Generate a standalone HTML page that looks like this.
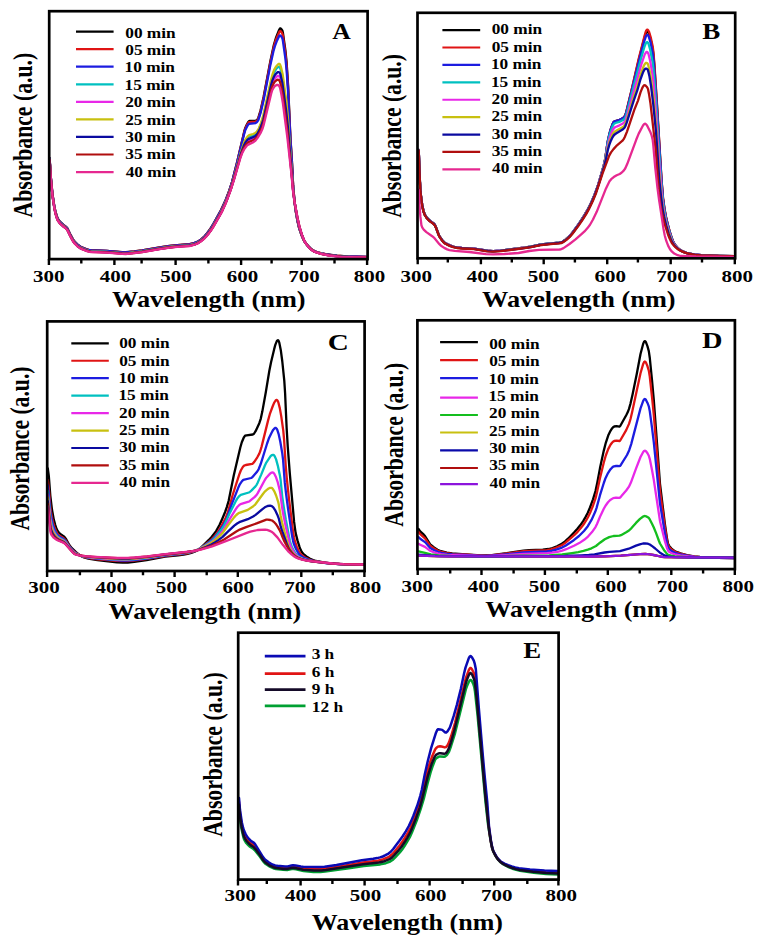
<!DOCTYPE html>
<html><head><meta charset="utf-8"><style>
html,body{margin:0;padding:0;background:#fff;}
svg{display:block;}
text{font-family:"Liberation Serif",serif;font-weight:bold;}
</style></head><body>
<svg width="762" height="942" viewBox="0 0 762 942">
<rect width="762" height="942" fill="#fff"/>
<path d="M49.6 158.2L50.9 177.8 52.4 193.6 54.4 206.8 55.6 212.2 56.9 216.5 57.9 218.9 59.9 221.7 63.4 224.9 66.1 226.9 67.3 228.3 70.1 234.0 72.8 239.1 74.3 241.3 77.6 244.6 80.6 246.8 86.1 249.0 88.6 249.8 91.1 250.2 106.6 250.8 122.1 252.1 125.8 252.2 134.1 251.4 142.1 250.4 161.3 247.1 169.6 245.9 177.3 245.1 189.6 244.1 194.1 243.1 197.8 241.6 201.1 239.4 204.6 236.3 207.3 233.0 210.8 228.2 213.6 223.6 221.1 210.0 225.8 199.7 229.3 190.6 232.1 181.9 237.1 162.2 244.3 131.2 245.3 127.9 247.1 124.0 248.1 122.2 249.1 121.1 249.6 121.0 255.6 120.9 256.6 120.2 257.6 119.2 258.4 117.7 260.6 110.3 263.6 96.9 270.4 61.0 273.9 44.8 275.9 38.0 278.9 30.3 279.9 28.6 280.1 28.4 280.6 28.5 281.4 29.1 282.4 30.6 282.9 32.7 285.4 50.3 286.6 62.2 288.1 85.6 290.4 137.3 291.9 160.8 293.1 184.9 294.4 200.2 295.6 210.4 297.4 220.6 299.1 228.0 301.4 234.8 302.9 238.4 304.4 241.2 308.1 246.1 310.4 248.3 312.4 249.9 314.4 251.1 316.9 252.0 321.1 253.3 325.6 254.2 336.9 255.7 347.6 256.4 366.4 256.8" fill="none" stroke="#000000" stroke-width="2.3" stroke-linejoin="round" stroke-linecap="round"/>
<path d="M49.6 158.3L50.9 177.9 52.4 193.7 54.4 206.9 55.6 212.3 56.9 216.6 57.9 219.0 59.9 221.8 63.4 225.0 66.1 227.0 67.3 228.3 70.1 234.1 72.8 239.1 74.3 241.4 77.6 244.7 80.6 246.9 86.1 249.1 88.6 249.8 91.1 250.3 106.6 250.9 122.1 252.2 125.8 252.3 134.1 251.5 142.1 250.4 161.3 247.2 169.6 246.0 177.3 245.2 189.6 244.2 194.1 243.2 197.8 241.7 201.1 239.4 204.6 236.4 207.3 233.1 210.8 228.3 213.6 223.8 220.8 210.6 225.6 200.5 229.3 190.7 232.1 182.0 236.8 163.6 244.1 132.9 245.3 128.7 246.8 125.4 248.1 123.2 249.1 122.1 255.6 121.7 256.6 121.0 257.6 120.0 258.4 118.5 260.6 111.3 263.6 98.1 270.4 62.5 273.9 46.6 275.1 42.2 276.9 37.4 279.4 31.7 279.9 31.1 280.4 31.0 281.1 31.6 282.1 33.1 282.9 35.7 285.4 53.4 286.6 65.2 288.1 88.2 290.4 138.5 291.9 161.6 293.1 185.2 294.4 200.2 295.6 210.3 297.4 220.5 299.1 227.9 301.4 234.7 302.9 238.3 304.1 240.8 305.4 242.7 307.9 245.8 310.1 248.1 312.4 250.0 314.4 251.1 316.6 252.0 320.9 253.2 325.4 254.2 330.4 255.0 336.6 255.7 346.9 256.4 366.4 256.8" fill="none" stroke="#e01414" stroke-width="2.3" stroke-linejoin="round" stroke-linecap="round"/>
<path d="M49.6 158.4L50.9 178.0 52.4 193.8 54.4 207.0 55.6 212.4 56.9 216.7 57.9 219.1 59.9 221.9 63.4 225.1 66.1 227.1 67.3 228.5 70.1 234.2 72.8 239.3 74.3 241.6 77.6 244.8 80.6 247.0 86.1 249.3 88.6 250.0 91.1 250.4 106.6 251.0 122.1 252.3 125.8 252.4 134.1 251.6 142.1 250.6 161.3 247.3 169.6 246.2 177.3 245.3 189.6 244.3 193.8 243.4 197.6 241.9 200.6 240.0 204.3 236.8 207.1 233.6 210.6 228.9 213.3 224.4 220.6 211.3 222.6 207.4 225.3 201.3 228.8 192.4 231.8 183.2 236.8 164.1 244.1 134.1 245.3 130.1 246.6 127.4 247.8 125.1 249.1 123.8 255.6 123.1 256.6 122.4 257.6 121.3 258.4 119.9 260.6 112.9 263.4 101.3 270.6 63.9 273.6 50.6 274.9 46.2 276.6 41.6 279.1 36.2 279.6 35.5 280.1 35.3 280.9 35.9 281.9 37.5 282.4 38.6 282.9 40.8 285.4 58.5 286.6 70.2 288.1 92.4 290.4 140.4 291.9 162.9 293.1 185.7 294.4 200.3 295.6 210.1 297.6 221.4 299.4 228.6 301.9 235.9 303.4 239.3 304.6 241.6 306.6 244.3 308.9 246.9 310.9 248.8 312.9 250.3 314.6 251.3 317.4 252.3 321.6 253.5 326.1 254.4 337.4 255.9 348.1 256.5 366.4 256.9" fill="none" stroke="#1c1ce0" stroke-width="2.3" stroke-linejoin="round" stroke-linecap="round"/>
<path d="M49.6 159.4L50.9 179.0 52.4 194.8 54.4 208.0 55.6 213.4 56.9 217.7 57.9 220.1 59.9 222.9 63.4 226.1 66.1 228.1 67.3 229.5 70.1 235.2 72.8 240.2 74.3 242.5 77.6 245.8 80.6 248.0 86.1 250.2 88.6 250.9 91.1 251.4 106.6 252.0 122.1 253.3 125.8 253.4 134.1 252.6 142.1 251.5 161.3 248.3 169.6 247.1 177.3 246.3 189.6 245.3 192.8 244.6 196.3 243.5 199.3 241.9 203.3 238.8 205.8 236.3 208.6 232.9 211.1 229.5 213.6 225.5 220.1 214.1 222.8 208.8 227.1 198.8 231.1 187.7 234.6 176.0 240.8 153.0 243.8 144.2 245.6 140.4 247.8 137.3 249.1 136.5 253.1 135.1 255.3 134.1 257.4 131.9 258.9 129.2 261.1 123.9 263.4 116.6 271.1 81.5 272.4 76.8 274.1 72.3 275.9 69.4 276.9 68.1 277.9 67.2 278.6 66.9 279.4 67.0 279.9 67.4 280.6 69.4 282.6 77.9 286.4 105.9 287.9 121.3 289.9 149.0 293.1 189.3 294.6 202.4 296.9 215.7 298.9 225.2 301.1 232.9 303.6 239.5 304.9 242.0 306.6 244.5 308.9 247.2 311.1 249.3 312.9 250.7 314.4 251.5 319.9 253.4 323.9 254.4 328.1 255.1 339.6 256.5 349.9 256.9 366.4 257.1" fill="none" stroke="#00c0c0" stroke-width="2.3" stroke-linejoin="round" stroke-linecap="round"/>
<path d="M49.6 159.7L50.9 179.3 52.4 195.1 54.4 208.3 55.6 213.7 56.9 218.0 57.9 220.4 59.9 223.2 63.4 226.4 66.1 228.4 67.3 229.8 70.1 235.5 72.8 240.5 74.3 242.8 77.6 246.1 80.6 248.3 86.1 250.5 88.6 251.2 91.1 251.7 106.6 252.3 122.1 253.6 125.6 253.7 133.8 252.9 142.1 251.8 161.3 248.6 169.8 247.4 177.3 246.6 189.3 245.7 192.6 245.0 196.1 243.9 199.1 242.3 202.8 239.5 205.3 237.2 208.1 234.0 210.8 230.3 213.1 226.8 219.6 215.6 222.1 210.9 226.3 201.3 230.8 189.1 234.3 177.8 240.8 154.7 243.1 148.6 245.1 144.6 247.1 141.8 248.6 140.6 253.3 138.6 255.6 137.1 257.9 134.3 260.1 130.0 261.9 125.9 263.4 121.3 271.1 87.6 272.1 83.9 273.6 80.4 274.9 78.4 277.1 76.2 277.9 75.9 278.6 76.0 279.6 76.7 280.1 77.8 281.9 85.4 282.9 91.2 285.6 111.5 287.9 131.6 293.1 190.4 294.6 202.4 297.1 216.4 299.1 225.8 301.6 234.1 304.1 240.5 305.4 242.8 307.4 245.5 309.6 248.0 311.6 249.9 314.6 251.7 320.6 253.7 328.9 255.4 340.1 256.6 350.1 257.0 366.4 257.2" fill="none" stroke="#e828e8" stroke-width="2.3" stroke-linejoin="round" stroke-linecap="round"/>
<path d="M49.6 159.3L50.9 178.9 52.4 194.7 54.4 207.9 55.6 213.3 56.9 217.6 57.9 220.0 59.9 222.8 63.4 226.0 66.1 228.0 67.3 229.4 70.1 235.1 72.8 240.1 74.3 242.4 77.6 245.7 80.6 247.9 86.1 250.1 88.6 250.8 91.1 251.3 106.6 251.9 122.1 253.2 125.8 253.3 134.1 252.5 142.1 251.4 161.3 248.2 169.6 247.0 177.3 246.2 189.6 245.2 193.1 244.5 196.6 243.3 199.6 241.6 203.6 238.5 206.1 235.9 209.1 232.1 211.3 229.0 213.8 224.9 220.3 213.5 223.1 208.1 227.3 198.0 231.3 186.7 234.8 174.8 240.8 152.4 244.1 142.6 245.6 139.3 247.8 136.1 249.1 135.2 253.1 134.0 255.3 133.0 256.4 132.1 257.6 130.5 258.9 128.2 261.1 122.6 263.4 115.1 270.9 80.6 272.4 74.7 274.1 69.9 275.9 66.7 277.9 64.4 278.9 63.8 279.6 63.9 280.1 64.6 280.9 66.8 282.6 74.0 286.4 102.0 287.9 117.9 289.9 147.2 293.1 188.9 294.6 202.4 296.6 214.5 298.9 225.4 301.1 233.0 303.6 239.6 304.9 242.0 306.6 244.4 308.9 247.1 311.1 249.3 312.9 250.6 314.4 251.5 319.9 253.3 323.9 254.3 328.1 255.1 339.6 256.4 350.1 256.9 366.4 257.1" fill="none" stroke="#c8c010" stroke-width="2.3" stroke-linejoin="round" stroke-linecap="round"/>
<path d="M49.6 159.6L50.9 179.2 52.4 195.0 54.4 208.2 55.6 213.6 56.9 217.9 57.9 220.3 59.9 223.1 63.4 226.3 66.1 228.3 67.3 229.6 70.1 235.4 72.8 240.4 74.3 242.7 77.6 246.0 80.6 248.2 86.1 250.4 88.6 251.1 91.1 251.6 106.6 252.1 122.1 253.4 125.6 253.6 133.8 252.8 142.1 251.7 161.3 248.5 169.8 247.3 177.3 246.4 189.3 245.5 192.6 244.9 196.1 243.8 199.1 242.2 202.8 239.4 205.3 237.1 208.1 233.8 210.8 230.1 213.3 226.2 219.8 214.9 222.3 210.2 226.6 200.4 231.1 188.1 234.6 176.5 240.8 154.0 243.6 146.3 245.3 142.7 247.3 139.9 248.8 138.8 253.1 137.2 255.3 135.9 256.4 135.0 257.6 133.3 259.4 130.1 261.6 124.8 263.4 119.3 271.1 85.0 272.1 81.2 273.6 77.4 275.1 74.8 276.4 73.3 277.4 72.4 278.1 72.1 278.9 72.1 279.6 72.6 280.4 74.3 282.4 83.1 286.1 110.4 287.9 127.2 293.1 190.0 294.6 202.4 297.1 216.7 299.1 226.0 301.6 234.3 303.9 240.0 305.1 242.4 307.1 245.1 309.4 247.7 311.4 249.6 313.1 250.9 314.6 251.7 320.1 253.5 324.1 254.5 328.4 255.2 339.9 256.5 350.1 257.0 366.4 257.2" fill="none" stroke="#0a0aa0" stroke-width="2.3" stroke-linejoin="round" stroke-linecap="round"/>
<path d="M49.6 159.8L50.9 179.5 52.4 195.2 54.4 208.4 55.6 213.8 56.9 218.1 57.9 220.6 59.9 223.3 63.4 226.5 66.1 228.5 67.3 229.9 70.1 235.6 72.8 240.7 74.3 243.0 77.6 246.3 80.6 248.4 86.1 250.7 88.6 251.4 91.1 251.8 106.6 252.4 122.1 253.7 125.6 253.8 133.8 253.0 142.1 252.0 161.3 248.7 169.8 247.5 177.3 246.7 189.3 245.8 192.3 245.2 195.3 244.3 198.3 242.9 201.6 240.7 204.6 238.1 207.6 234.8 210.6 230.8 212.8 227.4 221.8 211.7 226.1 202.1 230.8 189.3 234.3 178.1 240.6 156.3 242.6 150.8 244.6 146.8 246.8 143.6 248.3 142.3 253.1 140.2 255.6 138.6 257.9 135.6 260.4 131.1 262.1 127.1 263.4 123.3 271.1 90.2 272.1 86.7 273.4 83.9 274.6 81.9 276.6 80.1 277.4 79.7 278.1 79.7 278.9 80.1 279.6 80.9 280.1 82.1 280.9 85.3 282.6 94.6 284.9 110.9 287.6 133.7 291.6 174.0 293.1 190.9 294.6 202.4 297.4 217.4 299.4 226.6 302.1 235.5 304.4 241.0 305.6 243.1 307.9 246.1 309.9 248.3 311.9 250.1 314.9 251.9 320.9 253.8 328.9 255.4 340.4 256.7 350.4 257.1 366.4 257.2" fill="none" stroke="#b00e0e" stroke-width="2.3" stroke-linejoin="round" stroke-linecap="round"/>
<path d="M49.6 160.0L50.9 179.6 52.4 195.4 54.4 208.6 55.6 214.0 56.9 218.3 57.9 220.7 59.9 223.5 63.4 226.7 66.1 228.7 67.3 230.1 70.1 235.8 72.8 240.9 74.3 243.1 77.6 246.4 80.6 248.6 86.1 250.8 88.6 251.6 91.1 252.0 106.6 252.6 122.1 253.9 125.6 254.0 133.8 253.2 142.1 252.2 161.3 248.9 169.8 247.7 177.3 246.9 189.3 246.0 191.8 245.5 194.6 244.7 197.6 243.5 200.6 241.6 204.1 238.8 207.1 235.6 210.3 231.4 212.6 228.1 221.3 213.0 225.6 203.7 230.6 190.4 234.1 179.5 240.6 157.3 242.1 153.3 244.1 149.4 246.6 146.0 247.8 144.9 252.8 142.5 255.3 140.8 257.6 137.9 260.9 132.4 262.6 128.5 263.6 125.2 271.1 93.9 272.1 90.5 273.4 88.0 274.6 86.3 276.6 85.0 277.9 84.8 278.6 85.4 279.4 86.3 280.1 88.1 281.6 95.5 282.9 103.4 287.4 137.9 291.1 171.2 293.1 191.6 294.6 202.3 297.6 218.3 299.4 226.3 302.1 235.4 304.6 241.5 305.9 243.5 308.1 246.4 310.1 248.6 312.1 250.3 314.9 251.9 321.1 253.9 329.1 255.5 340.6 256.8 350.6 257.1 366.4 257.3" fill="none" stroke="#e62890" stroke-width="2.3" stroke-linejoin="round" stroke-linecap="round"/>
<path d="M418.7 150.0L419.9 181.8 420.7 194.1 422.2 204.9 423.7 211.7 424.9 214.9 426.9 217.9 429.9 220.8 433.2 223.1 434.7 224.6 435.9 227.1 438.4 234.1 439.4 236.2 442.7 240.8 443.9 242.1 445.2 243.1 448.2 244.6 451.2 245.9 454.2 246.8 457.2 247.4 461.7 247.9 473.9 248.6 487.4 250.7 493.2 251.1 500.7 250.6 523.7 247.7 531.0 246.6 541.2 244.5 559.2 242.6 561.2 242.3 562.5 241.8 565.5 239.7 570.0 235.6 573.2 231.6 579.2 223.3 584.2 215.6 587.7 209.7 591.0 203.2 594.0 196.3 596.5 189.7 598.5 183.8 603.7 165.7 605.2 158.9 607.2 144.8 608.2 139.2 610.2 131.0 612.5 124.5 613.5 122.3 614.2 121.5 615.5 121.0 619.7 119.8 621.7 118.8 623.5 117.7 624.7 116.4 626.0 113.3 631.2 92.1 639.2 58.0 644.5 37.8 645.5 34.3 646.2 32.5 647.0 31.6 647.5 31.6 648.2 32.3 649.0 33.8 650.5 38.6 652.7 49.2 653.5 55.5 654.5 67.8 656.7 101.4 661.5 180.1 663.0 198.4 664.5 209.1 666.2 218.4 669.2 230.2 672.0 238.8 673.2 241.7 674.5 244.0 676.2 246.4 678.2 248.5 680.0 249.9 682.0 251.0 685.0 252.4 687.7 253.3 694.0 254.4 701.2 255.2 719.0 255.9 734.2 256.2" fill="none" stroke="#000000" stroke-width="2.3" stroke-linejoin="round" stroke-linecap="round"/>
<path d="M418.7 150.0L419.9 181.8 420.7 194.1 422.2 204.9 423.7 211.7 424.9 214.9 426.9 217.9 429.9 220.8 433.2 223.1 434.7 224.6 435.9 227.1 438.4 234.1 439.4 236.2 442.7 240.8 443.9 242.1 445.2 243.1 448.2 244.6 451.2 245.9 454.2 246.8 457.2 247.4 461.7 247.9 473.9 248.6 487.4 250.7 493.2 251.1 500.7 250.6 523.7 247.7 531.0 246.6 541.2 244.5 559.2 242.6 561.2 242.3 562.5 241.8 565.5 239.7 570.0 235.6 573.2 231.6 579.2 223.3 584.5 215.2 588.0 209.2 591.2 202.6 594.2 195.6 596.5 189.7 598.5 183.8 603.7 165.7 605.2 158.9 607.2 144.8 608.2 139.2 610.2 131.0 612.5 124.5 613.5 122.3 614.2 121.5 615.5 121.0 618.5 120.3 620.0 119.7 622.0 118.7 623.5 117.6 624.7 116.3 626.0 113.1 631.2 91.4 638.7 58.7 644.5 36.1 645.5 32.5 646.2 30.6 647.0 29.7 647.5 29.6 648.2 30.3 649.0 31.7 650.7 37.3 652.7 46.5 653.5 52.9 654.5 65.3 656.7 99.3 661.5 179.0 663.0 197.7 664.5 208.6 666.5 219.1 669.5 230.8 672.2 239.3 673.5 242.2 674.5 243.9 676.5 246.6 678.5 248.7 680.2 250.0 682.2 251.1 685.0 252.4 687.7 253.3 694.0 254.4 701.2 255.2 719.0 255.9 734.2 256.2" fill="none" stroke="#e01414" stroke-width="2.3" stroke-linejoin="round" stroke-linecap="round"/>
<path d="M418.7 150.0L419.9 181.8 420.7 194.1 422.2 204.9 423.7 211.7 424.9 214.9 426.9 217.9 429.9 220.8 433.2 223.1 434.7 224.6 435.9 227.1 438.4 234.1 439.4 236.2 442.7 240.8 443.9 242.1 445.2 243.1 448.2 244.6 451.2 245.9 454.2 246.8 457.2 247.4 461.7 247.9 473.9 248.6 487.4 250.7 493.2 251.1 500.7 250.6 523.7 247.7 531.0 246.6 541.2 244.5 559.2 242.6 561.2 242.3 562.5 241.8 565.5 239.7 570.0 235.6 573.0 231.9 579.0 223.7 584.0 216.0 587.7 209.7 590.7 203.7 593.7 196.9 596.2 190.4 598.5 183.8 604.0 164.7 605.5 157.4 607.7 141.7 609.2 134.8 610.7 129.4 612.7 123.9 614.0 121.7 615.5 121.0 619.2 120.0 622.7 118.3 624.5 117.0 625.5 115.1 627.2 109.2 639.7 58.2 644.2 41.4 646.0 36.1 646.7 35.0 647.5 34.8 648.2 35.6 649.0 37.3 650.5 42.3 652.7 53.5 653.5 59.8 654.7 75.3 656.7 104.8 661.5 181.8 663.0 199.5 664.5 209.9 666.5 220.1 669.5 231.5 672.0 239.0 673.2 241.9 674.5 244.1 676.2 246.4 678.2 248.5 680.0 249.9 682.0 251.0 685.0 252.4 687.7 253.3 694.0 254.4 701.2 255.2 719.0 255.9 734.2 256.2" fill="none" stroke="#1c1ce0" stroke-width="2.3" stroke-linejoin="round" stroke-linecap="round"/>
<path d="M418.7 150.0L419.7 176.3 420.4 191.0 421.7 201.9 422.4 206.4 423.4 210.8 424.7 214.4 426.7 217.6 429.9 220.9 433.4 223.4 434.9 225.0 435.9 227.2 439.2 235.8 442.2 240.3 443.7 241.9 444.9 243.0 447.9 244.5 450.9 245.8 453.9 246.8 456.9 247.4 461.4 247.9 473.9 248.6 487.4 250.8 493.2 251.1 500.7 250.6 523.2 247.8 531.0 246.7 541.5 244.5 559.0 242.7 561.0 242.4 562.2 242.0 565.2 240.0 569.7 235.9 572.7 232.3 578.2 224.8 582.5 218.5 587.0 211.1 590.0 205.4 593.0 198.8 595.7 192.0 598.0 185.5 603.7 166.0 605.2 159.5 607.7 143.1 609.2 136.4 610.7 131.3 612.7 125.9 614.0 123.8 615.5 123.0 619.2 121.9 623.0 120.0 624.5 118.8 625.5 117.0 627.2 111.4 640.2 61.4 643.7 49.2 644.7 46.0 645.7 43.5 646.5 42.4 647.2 42.1 647.7 42.4 648.5 43.8 650.2 49.7 652.5 61.7 653.5 69.7 654.7 84.4 656.5 109.1 659.0 150.0 661.0 179.0 662.0 192.1 663.0 202.0 664.5 211.8 666.5 221.5 669.5 232.4 672.0 239.6 673.2 242.3 674.5 244.4 676.2 246.6 678.2 248.7 680.0 250.0 682.2 251.2 685.2 252.5 688.0 253.4 694.2 254.5 701.2 255.2 718.7 255.9 734.2 256.2" fill="none" stroke="#00c0c0" stroke-width="2.3" stroke-linejoin="round" stroke-linecap="round"/>
<path d="M418.7 150.1L419.7 176.3 420.4 191.1 421.7 202.0 422.4 206.5 423.4 210.9 424.7 214.5 426.7 217.7 429.9 221.0 433.4 223.5 434.9 225.1 435.9 227.3 439.2 235.9 442.2 240.3 443.7 242.0 444.9 243.1 447.9 244.6 450.9 245.9 453.9 246.9 456.9 247.5 461.4 248.0 473.9 248.7 487.4 250.9 493.2 251.2 500.7 250.7 522.7 248.0 531.0 246.8 541.5 244.6 559.0 242.8 562.0 242.2 564.5 240.7 568.7 237.1 571.2 234.4 574.2 230.5 580.0 222.5 585.2 214.4 588.7 208.2 592.0 201.4 594.7 194.9 597.2 188.1 603.5 167.6 605.2 160.6 607.7 145.9 609.2 139.7 610.7 134.9 612.7 130.0 614.0 128.0 615.5 127.0 619.0 125.6 623.0 123.4 624.5 122.1 625.5 120.3 627.2 115.0 641.7 63.3 644.7 54.5 646.0 52.3 646.5 51.9 647.0 51.9 647.7 52.4 648.5 54.0 650.2 61.0 652.5 74.8 653.5 82.9 656.2 116.2 659.5 166.2 661.5 191.1 662.7 203.5 664.2 212.9 666.2 222.3 669.0 232.1 671.7 239.8 673.0 242.4 674.2 244.5 676.2 246.9 678.2 248.8 680.2 250.2 682.5 251.4 685.2 252.6 688.0 253.4 694.2 254.5 701.2 255.2 718.7 256.0 734.2 256.2" fill="none" stroke="#e828e8" stroke-width="2.3" stroke-linejoin="round" stroke-linecap="round"/>
<path d="M418.7 150.2L419.7 176.4 420.4 191.1 421.7 202.1 422.4 206.5 423.4 211.0 424.7 214.6 426.7 217.8 429.9 221.1 433.4 223.6 434.9 225.2 435.9 227.3 439.2 236.0 442.2 240.4 443.7 242.1 444.9 243.2 447.9 244.7 450.9 246.0 453.9 247.0 456.9 247.6 461.4 248.1 473.9 248.8 487.2 250.9 492.9 251.3 500.4 250.9 522.0 248.2 530.7 246.9 541.7 244.6 559.0 243.0 561.7 242.4 564.2 241.0 568.5 237.5 570.7 235.2 573.2 232.1 579.0 224.2 583.2 217.8 587.5 210.8 590.7 204.5 593.5 198.3 596.0 192.0 600.0 179.9 604.7 163.8 607.7 148.7 609.2 143.0 610.7 138.6 612.7 134.1 614.0 132.2 615.7 131.0 623.0 127.0 624.5 125.6 625.2 124.3 626.7 120.4 633.7 97.4 637.0 87.6 640.2 76.0 642.0 70.7 643.5 66.6 644.5 64.5 645.7 63.0 646.7 62.8 647.7 63.7 648.2 64.9 650.0 72.5 651.2 80.3 653.5 97.8 656.2 128.3 659.2 173.1 661.2 194.7 662.5 205.8 664.0 214.7 666.2 224.5 669.0 233.7 671.5 240.2 672.7 242.7 674.2 245.0 676.0 247.0 678.0 248.8 680.0 250.2 682.2 251.4 685.2 252.6 688.0 253.5 694.2 254.6 701.2 255.3 718.7 256.0 734.2 256.2" fill="none" stroke="#c8c010" stroke-width="2.3" stroke-linejoin="round" stroke-linecap="round"/>
<path d="M418.7 150.3L419.7 176.5 420.4 191.2 421.7 202.1 422.4 206.6 423.4 211.1 424.7 214.7 426.7 217.9 429.9 221.1 433.4 223.6 434.9 225.3 435.9 227.4 439.2 236.1 442.2 240.5 443.7 242.2 444.9 243.2 447.9 244.8 450.9 246.1 453.9 247.0 456.9 247.7 461.4 248.2 473.9 248.9 487.2 251.0 492.9 251.4 500.4 250.9 522.0 248.3 530.7 247.0 541.7 244.7 559.0 243.0 561.7 242.5 564.2 241.1 568.5 237.6 570.5 235.6 573.0 232.5 578.7 224.7 582.7 218.8 587.0 211.8 590.2 205.7 594.7 195.5 598.5 184.9 604.5 165.3 605.5 161.4 607.7 150.5 609.2 145.1 610.5 141.6 612.5 137.3 614.0 135.0 616.0 133.5 623.0 129.3 624.5 127.8 625.2 126.5 626.7 122.7 633.7 100.6 637.2 90.7 640.2 80.2 642.0 75.1 643.2 71.9 644.2 69.9 645.5 68.7 646.5 68.6 647.5 69.4 648.0 70.3 649.5 76.6 651.0 85.7 653.2 103.7 656.0 131.7 659.2 178.6 661.0 196.0 662.5 208.1 664.0 216.4 666.2 225.6 668.7 233.8 671.2 240.3 672.5 242.7 674.0 244.9 675.7 246.9 677.7 248.7 679.7 250.1 682.2 251.4 685.2 252.6 688.0 253.5 694.5 254.6 701.2 255.3 718.5 256.0 734.2 256.2" fill="none" stroke="#0a0aa0" stroke-width="2.3" stroke-linejoin="round" stroke-linecap="round"/>
<path d="M418.7 150.6L419.7 176.8 420.4 191.5 421.7 202.4 422.4 206.9 423.4 211.4 424.7 215.0 426.7 218.2 429.9 221.4 433.4 223.9 434.9 225.6 435.9 227.7 439.2 236.4 442.2 240.8 443.7 242.5 444.9 243.5 447.9 245.1 450.9 246.4 453.9 247.3 456.9 248.0 461.4 248.5 473.9 249.2 487.2 251.3 492.9 251.7 500.7 251.2 524.5 248.2 531.0 247.2 539.5 245.4 543.5 244.8 553.0 243.8 559.2 243.4 561.5 243.0 563.7 241.9 566.5 239.8 569.5 237.2 572.5 233.8 578.2 226.1 582.2 220.4 586.0 214.4 589.2 208.6 592.7 201.3 596.2 192.7 602.5 173.7 609.2 155.6 611.0 152.4 613.5 149.1 617.0 145.3 622.5 140.7 623.5 139.4 624.7 137.2 627.0 131.6 634.2 110.1 638.0 100.6 640.5 92.4 642.2 88.1 643.2 86.2 644.0 85.4 644.5 85.2 645.0 85.3 645.7 85.8 646.7 86.8 647.5 87.9 648.0 89.1 649.0 93.9 650.5 103.7 655.7 149.6 659.0 192.9 659.5 197.6 660.7 206.1 662.5 215.4 664.7 224.2 668.0 234.5 669.5 238.3 671.0 241.5 672.2 243.6 674.0 245.7 676.0 247.7 678.0 249.3 680.0 250.5 683.0 251.9 685.7 252.9 688.5 253.7 695.0 254.8 701.2 255.4 718.5 256.0 734.2 256.2" fill="none" stroke="#b00e0e" stroke-width="2.3" stroke-linejoin="round" stroke-linecap="round"/>
<path d="M418.7 190.0L419.4 204.3 420.4 216.7 421.4 225.2 422.2 227.4 423.7 229.6 426.4 232.1 432.2 236.2 433.9 237.6 439.2 243.9 440.7 245.5 444.2 247.9 447.2 249.4 449.4 250.1 454.7 250.8 469.4 252.0 485.9 254.1 492.9 254.4 504.4 254.0 518.5 253.0 529.2 251.0 539.0 249.8 559.5 249.5 561.0 249.3 563.5 248.1 569.5 244.0 575.5 239.4 581.2 234.4 584.5 231.4 587.5 228.1 590.0 224.8 593.0 219.5 596.7 211.8 606.0 188.4 609.5 181.3 611.2 179.2 613.7 177.1 616.7 175.3 619.7 174.0 621.5 172.8 623.7 170.6 625.2 168.5 627.2 164.1 636.2 139.8 638.7 133.6 643.0 125.5 644.2 124.0 645.2 123.7 646.2 124.4 647.2 125.7 650.2 131.7 651.7 135.7 652.7 140.0 653.2 144.1 655.2 167.1 657.5 188.2 659.0 199.3 663.5 228.9 664.7 235.2 666.2 240.7 668.2 245.9 670.0 249.2 672.0 251.7 674.2 253.5 677.7 255.2 680.7 256.0 696.0 256.5 734.2 256.8" fill="none" stroke="#e62890" stroke-width="2.3" stroke-linejoin="round" stroke-linecap="round"/>
<path d="M47.8 468.5L48.8 475.9 50.3 495.6 52.0 509.8 53.8 519.6 55.3 525.1 56.5 528.8 57.8 531.3 59.0 532.8 60.3 533.9 63.5 536.1 65.0 537.6 66.3 539.5 69.3 545.0 71.8 548.1 76.0 552.1 80.0 555.3 82.3 556.8 84.0 557.5 88.3 558.6 97.5 560.2 116.8 562.3 122.8 562.6 127.8 562.5 134.3 561.9 146.6 560.2 165.1 556.7 178.1 555.4 183.6 554.6 187.6 553.8 191.3 552.8 194.6 551.6 197.6 550.1 199.6 548.8 201.8 546.8 208.6 540.2 211.8 536.7 216.1 531.1 219.6 524.8 222.3 518.7 225.1 512.0 226.8 507.1 228.6 501.1 233.8 475.3 240.3 447.5 241.8 442.3 243.8 437.5 245.1 435.7 246.6 435.3 252.8 434.5 253.8 434.0 255.6 431.2 259.3 423.2 260.8 418.6 262.3 411.6 265.8 392.2 269.3 371.0 271.1 362.1 274.1 349.4 275.3 344.9 276.8 341.1 277.6 340.3 278.1 340.2 278.6 340.8 279.3 342.7 280.8 350.2 282.3 361.5 284.3 380.9 285.1 393.2 286.6 427.3 287.8 447.2 289.8 473.3 294.1 521.9 295.6 532.9 297.6 540.9 299.6 547.2 300.8 550.1 301.8 552.0 303.1 553.7 304.6 555.0 307.3 557.1 310.1 558.7 313.1 560.0 316.1 561.0 324.8 562.6 334.6 563.7 348.3 564.3 363.6 564.5" fill="none" stroke="#000000" stroke-width="2.3" stroke-linejoin="round" stroke-linecap="round"/>
<path d="M47.8 480.0L48.8 488.4 50.3 506.3 51.0 511.9 52.3 519.0 53.3 523.4 54.3 526.6 55.8 530.5 57.3 533.4 58.5 534.9 60.0 536.0 63.5 538.1 65.0 539.5 66.3 541.2 69.3 546.1 73.0 550.4 75.5 552.5 81.3 556.0 83.3 556.8 86.3 557.6 95.5 559.0 116.0 560.9 121.8 561.2 126.8 561.1 133.6 560.6 145.6 559.2 164.6 556.0 181.8 554.2 188.6 553.0 193.6 551.6 197.8 549.8 200.3 548.3 207.8 542.5 211.8 539.0 214.8 535.9 217.1 532.9 219.3 529.5 222.8 523.4 225.6 518.0 227.8 512.4 232.8 494.5 239.3 474.3 240.8 470.5 242.8 467.0 244.1 465.6 245.8 465.0 252.1 463.9 253.1 463.3 254.3 461.8 257.3 457.3 259.3 453.6 260.3 451.0 261.6 446.6 268.1 420.4 269.8 414.2 272.6 406.5 274.1 402.9 275.6 400.5 276.3 400.0 276.8 400.0 277.6 400.6 278.3 402.2 279.8 408.1 281.3 416.6 283.3 430.9 284.1 439.7 285.6 464.0 286.8 478.3 288.8 497.2 293.1 532.1 294.1 538.0 294.8 541.0 296.8 546.7 298.8 551.1 300.1 553.2 301.3 554.8 304.3 557.0 306.8 558.4 309.6 559.6 312.6 560.6 315.6 561.3 325.6 562.8 335.1 563.8 349.3 564.3 363.6 564.5" fill="none" stroke="#e01414" stroke-width="2.3" stroke-linejoin="round" stroke-linecap="round"/>
<path d="M47.8 485.4L48.8 494.3 50.0 509.0 50.8 515.1 52.8 524.5 53.8 527.8 55.0 530.8 56.5 533.7 58.0 535.6 59.8 537.0 63.5 539.1 65.3 540.6 69.3 546.6 73.3 551.1 75.3 552.8 80.3 555.5 82.3 556.3 84.3 556.9 94.0 558.4 115.5 560.2 121.3 560.5 126.3 560.5 133.6 560.0 146.6 558.5 164.6 555.6 182.8 553.7 190.8 552.2 195.1 550.9 198.6 549.4 201.6 547.6 207.8 543.2 211.3 540.5 214.3 537.7 216.6 535.1 219.3 531.4 223.6 524.9 226.6 519.2 231.8 504.1 238.6 486.9 239.8 484.3 241.8 481.3 243.3 479.9 251.1 478.0 252.3 477.3 256.6 472.3 258.6 469.3 260.6 464.3 267.1 443.5 268.8 438.6 271.6 432.7 273.1 429.9 274.6 428.2 275.3 427.9 275.8 428.0 276.6 428.6 277.3 429.9 278.8 434.7 280.3 441.8 282.3 453.6 283.1 460.2 284.8 482.7 286.1 494.0 288.1 509.2 292.1 536.1 293.1 541.1 293.8 543.7 296.1 549.2 298.1 552.8 299.3 554.5 300.6 555.8 304.1 557.9 309.3 560.0 315.1 561.4 326.1 563.0 335.3 563.8 349.6 564.3 363.6 564.5" fill="none" stroke="#1c1ce0" stroke-width="2.3" stroke-linejoin="round" stroke-linecap="round"/>
<path d="M47.8 490.9L50.5 518.4 52.0 525.2 53.0 528.5 54.0 530.9 55.8 534.1 57.5 536.5 59.3 537.8 63.0 539.8 64.8 541.0 66.0 542.4 69.3 547.1 73.0 551.4 75.0 553.1 78.3 554.7 81.0 555.8 83.3 556.5 91.5 557.7 114.3 559.5 125.3 559.9 133.1 559.4 146.1 558.0 164.6 555.2 179.3 553.7 185.6 552.9 189.8 552.1 193.1 551.3 196.6 550.1 199.1 549.0 205.3 545.3 209.3 542.6 212.6 540.1 215.3 537.3 221.3 529.8 224.3 525.2 229.3 514.0 236.1 500.6 237.3 498.5 239.3 496.1 240.8 494.8 248.8 492.5 249.8 492.0 251.6 490.4 255.3 486.6 256.6 484.8 257.8 482.4 261.3 474.4 264.8 465.7 266.3 462.6 270.6 456.2 271.8 455.1 273.1 454.8 273.8 455.1 274.6 456.0 276.1 459.4 277.8 465.6 279.8 474.9 280.6 479.8 282.3 497.1 283.6 506.0 285.8 519.4 289.8 540.5 290.8 544.2 291.8 546.7 294.1 551.2 296.1 554.1 297.3 555.5 298.6 556.5 302.6 558.6 307.3 560.2 313.1 561.4 325.8 563.0 335.1 563.8 349.6 564.3 363.6 564.5" fill="none" stroke="#00c0c0" stroke-width="2.3" stroke-linejoin="round" stroke-linecap="round"/>
<path d="M47.8 494.4L50.5 521.5 51.5 526.0 53.3 531.1 55.0 534.2 57.3 537.1 58.8 538.3 63.3 540.5 65.0 541.8 69.5 547.8 72.8 551.4 74.5 553.0 78.0 554.7 82.3 556.1 86.3 556.8 92.3 557.5 111.8 559.0 120.0 559.4 127.3 559.4 135.6 558.8 148.3 557.4 165.3 554.9 182.1 553.2 190.3 551.9 194.8 550.7 198.3 549.5 204.6 546.4 209.3 543.6 212.6 541.4 215.3 539.0 219.1 535.1 223.1 530.5 224.8 527.9 229.8 518.8 235.8 509.1 237.3 507.0 239.3 505.0 240.6 504.1 248.6 501.6 249.6 501.2 254.8 496.9 256.3 495.3 257.6 493.4 264.8 480.0 266.3 477.7 270.3 473.4 271.6 472.6 272.8 472.5 273.6 472.9 274.3 473.7 275.8 476.7 277.6 481.8 279.6 489.6 280.3 493.4 282.1 507.3 283.3 514.6 285.6 525.7 289.6 543.0 290.8 546.8 292.1 549.3 294.3 552.9 296.3 555.3 298.8 557.2 303.3 559.2 308.1 560.5 313.6 561.5 327.1 563.1 335.8 563.8 350.1 564.3 363.6 564.5" fill="none" stroke="#e828e8" stroke-width="2.3" stroke-linejoin="round" stroke-linecap="round"/>
<path d="M47.8 497.6L50.5 524.4 51.5 528.4 53.0 532.2 55.0 535.4 57.5 538.1 59.3 539.2 63.3 541.1 65.3 542.6 69.3 547.8 72.8 551.7 74.3 553.1 76.3 554.2 80.8 555.7 83.5 556.3 88.5 556.9 96.3 557.6 115.3 558.8 122.3 559.0 128.1 559.0 134.8 558.5 146.8 557.3 164.6 554.8 180.1 553.2 188.6 552.0 192.8 551.2 196.8 550.1 200.3 548.7 205.8 546.1 210.1 543.8 213.1 541.8 216.8 538.7 221.1 534.6 223.1 532.4 227.1 526.5 234.3 517.1 236.3 515.0 238.1 513.5 239.3 512.8 247.8 509.9 253.3 506.2 254.6 505.2 255.8 503.7 263.1 493.7 265.1 491.3 267.1 489.6 268.6 488.5 270.1 487.9 271.3 487.9 272.1 488.2 272.8 488.8 274.3 491.3 276.1 495.5 278.1 501.6 278.8 504.6 280.6 515.5 282.1 522.5 286.3 538.5 288.3 545.1 289.6 548.1 291.3 550.9 293.6 553.9 295.6 556.0 296.8 556.9 298.3 557.7 302.8 559.4 307.3 560.6 312.8 561.5 327.8 563.2 336.3 563.9 350.3 564.3 363.6 564.5" fill="none" stroke="#c8c010" stroke-width="2.3" stroke-linejoin="round" stroke-linecap="round"/>
<path d="M47.8 501.1L49.8 521.7 50.5 527.7 51.3 530.5 53.0 534.2 54.8 536.5 57.5 539.0 59.3 540.0 63.0 541.6 65.0 543.0 69.3 548.1 72.8 552.0 74.3 553.4 75.3 554.0 76.5 554.5 81.3 555.8 85.0 556.3 91.3 556.9 111.3 558.2 121.3 558.6 128.8 558.5 146.8 556.9 165.1 554.5 184.6 552.4 191.1 551.5 196.6 550.3 200.6 549.0 206.3 546.8 210.6 544.9 213.8 543.1 218.3 540.1 222.6 536.9 227.1 532.4 234.3 525.6 237.1 523.5 239.3 522.2 247.8 519.2 253.1 516.5 255.6 514.9 262.8 508.8 264.8 507.3 267.6 506.0 270.1 505.7 271.8 506.1 273.3 507.4 275.1 510.1 277.3 514.7 278.8 518.6 280.8 526.9 282.6 532.5 286.8 544.0 288.8 548.6 289.8 550.2 292.6 553.7 294.6 555.7 296.3 557.0 300.8 559.0 306.3 560.4 311.8 561.3 325.3 562.8 338.8 564.0 363.6 564.5" fill="none" stroke="#0a0aa0" stroke-width="2.3" stroke-linejoin="round" stroke-linecap="round"/>
<path d="M47.8 503.9L50.3 528.6 51.0 532.2 52.5 535.1 54.3 537.2 57.3 539.5 59.0 540.4 63.0 542.1 65.0 543.4 72.5 552.0 74.3 553.7 76.0 554.5 80.0 555.5 86.8 556.4 97.0 557.1 117.8 558.2 128.3 558.2 135.3 557.7 147.8 556.5 165.1 554.3 187.1 552.0 194.8 550.8 198.8 549.9 202.8 548.7 208.6 546.8 213.1 545.1 217.8 542.8 224.1 539.5 236.3 531.5 239.8 529.6 246.1 527.1 256.6 523.4 265.1 520.1 266.3 519.7 267.6 519.7 270.3 520.0 272.1 520.5 273.8 521.8 275.6 523.7 277.6 526.6 279.6 530.1 280.6 532.2 282.6 537.4 283.8 540.1 286.3 544.9 289.3 550.1 291.1 552.5 293.3 554.8 295.6 556.7 297.6 557.8 302.1 559.5 307.6 560.7 330.1 563.3 339.8 564.0 363.6 564.5" fill="none" stroke="#b00e0e" stroke-width="2.3" stroke-linejoin="round" stroke-linecap="round"/>
<path d="M47.8 506.2L50.3 530.8 50.8 533.4 51.8 535.4 53.3 537.3 55.3 538.9 58.0 540.5 62.8 542.4 64.8 543.6 66.3 545.0 72.8 552.5 74.3 553.9 75.5 554.5 78.8 555.3 85.3 556.1 95.3 556.8 117.0 557.9 127.5 557.9 134.6 557.5 147.3 556.4 165.3 554.1 190.8 551.4 196.3 550.5 200.8 549.6 212.1 546.3 225.8 541.2 246.1 533.1 250.3 531.7 257.6 530.0 265.3 529.7 267.1 529.9 269.1 530.6 271.6 531.8 273.1 532.9 277.6 537.6 282.8 544.8 288.8 551.9 291.8 554.6 294.3 556.5 296.3 557.7 298.6 558.6 303.1 559.9 308.1 560.8 332.6 563.5 343.8 564.1 363.6 564.5" fill="none" stroke="#e62890" stroke-width="2.3" stroke-linejoin="round" stroke-linecap="round"/>
<path d="M418.5 555.5L435.0 556.2 450.2 556.4 593.0 556.5 605.2 556.3 620.8 555.7 640.0 554.1 645.2 553.9 650.0 554.4 656.2 555.5 662.0 556.9 664.8 557.2 685.0 557.4 734.0 557.6" fill="none" stroke="#c8c010" stroke-width="2.3" stroke-linejoin="round" stroke-linecap="round"/>
<path d="M418.5 555.5L435.0 556.2 450.2 556.4 593.0 556.5 605.2 556.3 620.8 555.7 640.0 554.1 645.2 553.9 650.0 554.4 656.2 555.5 662.0 556.9 664.8 557.2 685.0 557.4 734.0 557.6" fill="none" stroke="#b00e0e" stroke-width="2.3" stroke-linejoin="round" stroke-linecap="round"/>
<path d="M418.5 529.0L420.2 531.4 423.8 534.7 425.0 536.1 430.2 544.3 434.0 547.5 437.5 549.7 441.0 551.2 446.8 552.7 452.2 553.5 465.5 554.3 480.8 555.5 486.0 555.5 491.8 555.1 506.8 553.2 523.5 550.6 529.0 550.2 542.8 549.6 548.5 549.0 552.5 548.0 557.0 546.2 561.8 543.8 564.8 541.6 568.0 538.7 574.0 532.6 577.2 529.0 580.2 525.3 583.0 521.3 585.5 517.1 587.8 512.7 590.0 507.5 593.0 499.3 595.5 491.0 597.0 484.1 600.0 468.1 603.8 450.6 605.8 442.8 608.2 435.6 610.5 430.8 612.2 428.2 613.5 426.9 614.2 426.5 616.5 426.1 619.5 426.6 620.2 426.0 626.2 415.3 627.8 412.1 629.0 408.9 630.5 403.6 632.5 394.8 636.8 373.8 640.5 354.0 643.2 343.7 644.0 341.9 644.8 341.1 645.2 341.3 646.0 342.3 647.5 346.4 648.8 351.1 649.8 358.0 652.0 380.0 653.8 400.1 660.0 483.8 664.8 523.3 667.0 538.6 668.2 544.2 669.2 545.9 671.2 548.3 673.0 549.9 675.0 551.2 677.2 552.2 680.5 553.4 688.5 555.5 694.2 556.4 700.0 557.0 717.8 557.8 734.0 558.1" fill="none" stroke="#000000" stroke-width="2.3" stroke-linejoin="round" stroke-linecap="round"/>
<path d="M418.5 532.0L420.2 534.1 425.0 538.3 430.2 545.6 434.0 548.5 437.5 550.5 441.0 551.8 446.8 553.1 452.2 553.8 465.5 554.5 479.2 555.6 486.5 555.6 493.0 555.2 505.8 553.7 523.8 551.2 546.8 550.1 551.0 549.3 555.8 547.8 561.8 545.2 565.0 543.1 574.5 534.8 577.8 531.6 580.8 528.1 583.5 524.5 586.0 520.7 588.2 516.7 590.5 511.9 593.0 505.7 595.5 498.4 597.0 492.2 600.0 478.0 603.8 462.4 605.8 455.5 608.2 449.1 610.5 444.8 612.2 442.5 613.5 441.3 614.2 441.0 616.5 440.6 619.5 441.0 620.2 440.5 626.2 430.1 629.0 423.9 630.5 419.0 632.2 411.8 640.5 373.2 643.2 363.9 644.0 362.2 644.8 361.5 645.2 361.7 646.0 362.6 647.5 366.3 648.8 370.6 649.8 376.9 652.0 396.8 653.8 415.0 660.0 490.8 664.8 526.5 667.0 540.4 668.2 545.5 669.2 547.0 671.2 549.2 673.0 550.6 675.0 551.8 677.2 552.7 680.5 553.7 688.5 555.6 694.5 556.6 700.2 557.1 718.0 557.8 734.0 558.1" fill="none" stroke="#e01414" stroke-width="2.3" stroke-linejoin="round" stroke-linecap="round"/>
<path d="M418.5 537.1L420.2 538.8 425.0 542.1 430.2 547.9 434.2 550.3 437.8 551.8 441.2 552.9 447.0 553.9 452.5 554.4 465.5 554.9 479.2 555.8 486.5 555.8 493.0 555.4 505.8 554.3 523.8 552.4 546.8 551.5 551.2 550.9 556.2 549.6 562.0 547.6 565.5 545.8 573.8 540.2 579.0 536.0 584.0 531.0 587.8 526.2 591.5 519.9 595.2 511.8 596.5 508.1 600.0 495.2 603.8 483.0 605.5 478.2 608.0 473.1 610.2 469.6 612.0 467.7 613.2 466.6 614.0 466.3 616.0 466.0 617.2 465.9 619.2 466.2 620.0 466.0 621.0 464.7 627.0 455.0 629.2 450.2 631.2 444.1 640.5 408.4 643.2 400.9 644.0 399.5 644.8 399.0 645.2 399.1 646.0 399.9 647.5 402.9 648.8 406.3 649.8 411.4 652.0 427.6 653.8 442.3 660.0 503.6 664.8 532.5 667.0 543.6 668.2 547.8 669.2 549.0 671.2 550.8 673.0 551.9 675.0 552.9 680.5 554.5 688.5 556.0 694.5 556.8 700.5 557.2 718.0 557.8 734.0 558.0" fill="none" stroke="#1c1ce0" stroke-width="2.3" stroke-linejoin="round" stroke-linecap="round"/>
<path d="M418.5 543.6L420.2 544.7 425.0 546.9 430.2 550.8 434.2 552.4 437.8 553.4 441.2 554.1 447.2 554.8 453.0 555.1 479.2 556.0 486.5 556.1 505.8 555.1 523.8 553.8 547.0 553.2 552.0 552.7 557.5 551.8 562.2 550.7 566.2 549.2 574.0 545.8 579.2 543.1 584.2 539.8 588.0 536.6 592.0 532.1 595.5 527.1 597.0 524.0 600.0 516.8 603.8 508.8 605.5 505.7 608.0 502.3 610.2 500.0 613.2 498.1 616.0 497.6 619.2 497.8 620.0 497.6 621.0 496.6 626.2 490.5 628.8 486.9 630.8 482.8 636.0 468.6 640.5 457.0 643.2 452.0 644.0 451.1 644.8 450.7 645.2 450.8 646.0 451.3 647.5 453.3 648.8 455.7 649.8 459.1 652.0 470.0 653.8 479.9 660.0 521.2 664.8 540.7 667.0 548.2 668.2 550.9 669.2 551.8 671.2 553.0 675.0 554.4 680.5 555.4 688.5 556.5 694.8 557.0 701.0 557.3 718.2 557.7 734.0 557.8" fill="none" stroke="#e828e8" stroke-width="2.3" stroke-linejoin="round" stroke-linecap="round"/>
<path d="M418.5 551.4L425.0 552.8 430.8 554.3 438.8 555.4 450.5 555.9 479.0 556.3 490.8 556.3 523.5 555.6 549.2 555.3 562.2 554.5 572.0 553.1 578.2 552.1 583.5 550.9 587.8 549.7 591.5 548.3 596.0 546.0 600.0 542.7 604.8 539.2 609.2 537.1 613.5 536.0 619.5 535.7 621.0 535.2 626.2 532.3 629.0 530.5 631.5 528.1 636.0 522.9 640.0 518.9 643.2 516.5 644.2 516.1 645.0 516.0 646.2 516.4 647.8 517.2 648.8 518.0 649.8 519.4 652.0 523.7 653.8 527.5 656.0 532.9 658.8 540.5 660.0 543.5 664.5 550.8 667.0 553.9 668.2 554.9 671.2 555.7 675.0 556.3 688.2 557.1 703.2 557.5 734.0 557.7" fill="none" stroke="#14be1e" stroke-width="2.3" stroke-linejoin="round" stroke-linecap="round"/>
<path d="M418.5 554.6L430.5 555.7 438.2 556.1 478.0 556.4 551.5 556.2 564.5 556.0 581.5 555.3 588.8 554.9 594.5 554.3 604.5 552.5 609.5 551.8 620.0 551.2 628.8 548.7 636.0 545.6 639.8 544.3 643.0 543.5 645.0 543.3 647.5 543.7 649.8 544.5 652.5 546.4 655.2 548.5 660.5 553.1 664.5 555.4 668.2 556.6 675.2 557.1 688.0 557.3 734.0 557.6" fill="none" stroke="#0a0aaa" stroke-width="2.3" stroke-linejoin="round" stroke-linecap="round"/>
<path d="M418.5 555.5L435.0 556.2 450.2 556.4 593.0 556.5 605.2 556.3 620.8 555.7 640.0 554.1 645.2 553.9 650.0 554.4 656.2 555.5 662.0 556.9 664.8 557.2 685.0 557.4 734.0 557.6" fill="none" stroke="#8c14dc" stroke-width="2.3" stroke-linejoin="round" stroke-linecap="round"/>
<path d="M239.0 807.7L240.0 819.0 241.2 827.5 243.2 836.6 244.0 839.1 244.8 840.7 246.2 843.0 248.2 845.1 250.0 846.7 253.5 849.0 255.2 850.7 260.0 856.8 263.5 861.7 265.0 863.4 269.2 866.3 273.2 868.2 276.0 869.0 283.0 869.8 287.2 870.0 291.8 869.1 293.8 869.0 296.0 869.3 303.5 871.0 313.5 871.9 320.5 871.9 325.0 871.5 348.8 868.2 363.8 865.9 380.2 864.4 385.8 863.2 390.2 861.5 392.5 860.0 395.0 857.7 399.8 852.5 402.0 849.7 404.5 846.1 407.2 841.6 409.8 837.1 411.8 832.8 416.8 820.3 420.8 808.7 423.8 798.7 427.5 783.7 431.0 771.0 432.8 765.7 435.2 759.5 435.8 758.8 436.8 757.9 439.0 756.6 440.2 756.4 444.0 756.8 445.0 756.5 447.2 754.7 448.8 752.2 451.0 746.2 455.0 733.3 466.0 688.8 467.0 686.0 469.0 681.5 470.0 680.2 470.8 680.0 471.2 680.3 472.0 681.3 473.5 684.6 474.2 686.9 475.0 691.6 477.5 714.6 485.5 802.0 486.8 813.7 488.2 825.5 490.5 840.0 492.0 847.6 493.2 851.5 495.0 855.0 496.8 857.9 498.5 860.2 500.5 862.3 502.5 863.8 505.8 865.7 509.0 867.3 512.5 868.7 516.2 869.8 520.0 870.7 533.8 872.8 546.2 874.1 557.8 874.5" fill="none" stroke="#00a032" stroke-width="2.5" stroke-linejoin="round" stroke-linecap="round"/>
<path d="M239.0 801.8L240.0 813.6 241.5 824.0 243.2 831.6 244.2 834.5 245.2 836.7 247.0 839.4 249.0 841.7 251.0 843.5 253.8 845.3 255.2 846.8 263.2 858.9 265.0 861.2 269.0 864.1 273.2 866.2 276.8 867.0 284.2 867.9 287.5 867.9 291.5 866.9 293.2 866.7 295.8 867.0 301.0 868.1 303.2 868.5 315.2 869.0 322.5 868.8 337.0 866.9 362.8 862.4 378.0 860.7 383.5 859.2 389.0 856.8 391.2 855.1 393.8 852.6 399.0 846.2 402.0 842.2 405.0 837.7 408.0 832.5 410.2 828.2 412.5 823.3 417.2 811.0 420.5 800.9 422.0 795.0 426.5 774.8 428.2 767.9 431.8 757.3 435.0 749.7 436.2 747.9 437.8 746.7 438.8 746.4 440.0 746.3 441.5 746.5 444.8 747.4 446.0 747.1 447.5 745.4 449.0 742.4 451.2 736.0 455.0 723.0 465.8 678.2 468.8 670.1 469.8 668.4 470.2 668.1 470.8 668.0 471.5 668.6 472.2 669.7 474.0 673.6 474.8 676.8 475.8 683.5 485.0 788.2 487.2 809.7 488.8 826.2 490.0 835.6 491.2 843.2 492.2 847.9 493.2 851.0 494.8 854.1 496.5 857.1 498.2 859.4 500.2 861.5 502.2 863.0 505.2 864.7 508.5 866.2 512.0 867.5 515.8 868.6 519.5 869.4 532.0 871.1 545.5 872.3 557.8 872.7" fill="none" stroke="#e01414" stroke-width="2.5" stroke-linejoin="round" stroke-linecap="round"/>
<path d="M239.0 797.9L240.0 810.0 241.8 822.2 243.2 828.2 244.2 831.1 245.5 833.9 247.0 836.5 249.0 839.0 251.2 841.1 254.0 842.9 255.2 844.3 263.2 857.3 265.0 859.6 269.0 862.6 271.2 863.9 273.2 864.8 275.2 865.4 277.5 865.8 285.0 866.6 287.8 866.5 291.5 865.4 293.0 865.2 295.5 865.4 300.8 866.5 303.2 866.8 319.0 867.0 324.5 866.7 336.5 865.1 361.8 860.2 373.2 858.8 377.2 858.1 380.0 857.4 382.8 856.5 385.5 855.2 388.5 853.6 390.8 851.8 393.2 849.0 399.2 841.1 402.5 836.5 405.8 831.3 408.8 826.0 411.0 821.4 413.2 816.3 417.2 805.8 420.2 796.1 421.8 789.8 424.8 774.3 427.8 761.0 431.2 747.9 436.0 732.7 437.2 729.9 437.8 729.4 438.2 729.2 440.0 729.4 442.2 729.9 445.0 732.3 445.8 732.6 446.2 732.5 447.5 731.4 449.8 727.6 451.2 723.6 453.8 715.7 456.8 705.1 460.8 689.1 464.0 673.7 465.5 667.6 468.8 658.2 469.8 656.5 470.2 656.2 470.8 656.1 471.2 656.5 472.0 657.4 473.8 660.7 474.8 663.9 475.8 669.0 478.8 707.8 482.8 755.3 484.8 777.4 487.2 801.6 489.0 826.3 491.2 842.3 492.2 847.2 493.2 850.5 494.8 853.7 496.5 856.6 498.2 859.0 500.2 861.0 502.2 862.4 505.0 863.8 508.2 865.2 511.8 866.5 515.2 867.5 519.0 868.2 530.0 869.5 544.5 870.6 557.8 871.0" fill="none" stroke="#0a0ab4" stroke-width="2.5" stroke-linejoin="round" stroke-linecap="round"/>
<path d="M239.0 804.8L240.0 816.3 241.5 826.4 243.2 834.1 244.0 836.5 245.0 838.6 246.5 841.0 248.5 843.3 250.5 845.1 253.8 847.3 255.2 848.8 260.0 855.3 263.2 860.2 265.0 862.3 269.2 865.3 273.2 867.2 276.2 868.0 283.8 868.9 287.5 868.9 291.8 868.0 293.5 867.9 296.0 868.2 303.2 869.7 314.0 870.4 321.5 870.4 326.0 869.9 338.8 868.1 363.2 864.2 379.0 862.5 384.5 861.2 389.5 859.2 391.8 857.6 394.2 855.2 398.8 850.1 401.8 846.3 404.5 842.3 407.2 837.8 409.8 833.2 411.8 828.9 416.2 817.7 419.8 807.6 422.2 798.9 428.0 775.3 431.5 764.3 434.8 756.6 436.0 754.9 438.0 753.7 439.0 753.3 440.5 753.2 444.2 753.8 445.5 753.4 446.0 753.1 447.2 751.6 448.5 749.2 450.8 742.8 454.5 729.8 465.8 683.1 466.8 680.0 468.8 675.1 469.8 673.5 470.2 673.1 470.8 673.1 471.5 673.7 472.2 674.8 474.0 678.9 474.8 682.3 475.5 687.6 476.8 699.9 485.2 794.4 488.2 822.9 489.2 831.1 491.0 842.3 492.2 848.2 493.2 851.2 494.8 854.3 496.5 857.3 498.2 859.7 500.2 861.7 502.2 863.3 505.2 865.0 508.8 866.7 512.2 868.0 516.0 869.1 519.8 870.0 532.8 871.8 546.0 873.1 557.8 873.5" fill="none" stroke="#140a28" stroke-width="2.5" stroke-linejoin="round" stroke-linecap="round"/>
<rect x="49.2" y="11.2" width="318.4" height="247.9" fill="none" stroke="#000" stroke-width="2.7"/>
<path d="M48.9 259.1V265.1M81.3 259.1V263.4M114.4 259.1V265.1M141.6 259.1V263.4M175.6 259.1V265.1M208.4 259.1V263.4M241.1 259.1V265.1M271.6 259.1V263.4M301.7 259.1V265.1M334.5 259.1V263.4M367.1 259.1V265.1" stroke="#000" stroke-width="2.4" fill="none"/>
<text transform="matrix(0.021 0 0 0.0167 32.95 282.11)" font-size="1000" fill="#000">300</text>
<text transform="matrix(0.021 0 0 0.0167 99.7 282.11)" font-size="1000" fill="#000">400</text>
<text transform="matrix(0.021 0 0 0.0167 160.33 282.11)" font-size="1000" fill="#000">500</text>
<text transform="matrix(0.021 0 0 0.0167 226.69 282.11)" font-size="1000" fill="#000">600</text>
<text transform="matrix(0.021 0 0 0.0167 288.25 282.11)" font-size="1000" fill="#000">700</text>
<text transform="matrix(0.021 0 0 0.0167 353.8 282.11)" font-size="1000" fill="#000">800</text>
<text transform="matrix(0.026304 0 0 0.023497 112.03 307.41)" font-size="1000" fill="#000">Wavelength (nm)</text>
<text transform="matrix(0 -0.021713 0.026351 0 32.49 217.42)" font-size="1000" fill="#000">Absorbance (a.u.)</text>
<text transform="matrix(0.025674 0 0 0.022576 332.34 38.9)" font-size="1000" fill="#000">A</text>
<rect x="417.5" y="12.8" width="317.7" height="245.5" fill="none" stroke="#000" stroke-width="2.7"/>
<path d="M417.7 258.3V264.3M447.8 258.3V262.6M480.9 258.3V264.3M511.8 258.3V262.6M543.7 258.3V264.3M574.9 258.3V262.6M607.2 258.3V264.3M637.9 258.3V262.6M670.7 258.3V264.3M702 258.3V262.6M734.8 258.3V264.3" stroke="#000" stroke-width="2.4" fill="none"/>
<text transform="matrix(0.021 0 0 0.0167 400.45 281.81)" font-size="1000" fill="#000">300</text>
<text transform="matrix(0.021 0 0 0.0167 466.8 281.81)" font-size="1000" fill="#000">400</text>
<text transform="matrix(0.021 0 0 0.0167 527.63 281.81)" font-size="1000" fill="#000">500</text>
<text transform="matrix(0.021 0 0 0.0167 594.59 281.81)" font-size="1000" fill="#000">600</text>
<text transform="matrix(0.021 0 0 0.0167 656.15 281.81)" font-size="1000" fill="#000">700</text>
<text transform="matrix(0.021 0 0 0.0167 721.5 281.81)" font-size="1000" fill="#000">800</text>
<text transform="matrix(0.026304 0 0 0.023497 482.03 307.41)" font-size="1000" fill="#000">Wavelength (nm)</text>
<text transform="matrix(0 -0.021594 0.026681 0 400.82 217.82)" font-size="1000" fill="#000">Absorbance (a.u.)</text>
<text transform="matrix(0.02701 0 0 0.023404 702.34 39.33)" font-size="1000" fill="#000">B</text>
<rect x="47.2" y="321.4" width="317.4" height="249.6" fill="none" stroke="#000" stroke-width="2.7"/>
<path d="M47.1 571V577M79.9 571V575.3M111.5 571V577M143 571V575.3M174.6 571V577M206.7 571V575.3M237.8 571V577M269.7 571V575.3M301.3 571V577M332.8 571V575.3M364.4 571V577" stroke="#000" stroke-width="2.4" fill="none"/>
<text transform="matrix(0.021 0 0 0.0167 28.35 592.81)" font-size="1000" fill="#000">300</text>
<text transform="matrix(0.021 0 0 0.0167 95.5 592.81)" font-size="1000" fill="#000">400</text>
<text transform="matrix(0.021 0 0 0.0167 155.83 592.81)" font-size="1000" fill="#000">500</text>
<text transform="matrix(0.021 0 0 0.0167 222.59 592.81)" font-size="1000" fill="#000">600</text>
<text transform="matrix(0.021 0 0 0.0167 284.15 592.81)" font-size="1000" fill="#000">700</text>
<text transform="matrix(0.021 0 0 0.0167 349.8 592.81)" font-size="1000" fill="#000">800</text>
<text transform="matrix(0.026222 0 0 0.022514 108.43 618.92)" font-size="1000" fill="#000">Wavelength (nm)</text>
<text transform="matrix(0 -0.021647 0.026351 0 28.69 530.62)" font-size="1000" fill="#000">Absorbance (a.u.)</text>
<text transform="matrix(0.029146 0 0 0.023363 327.77 349.57)" font-size="1000" fill="#000">C</text>
<rect x="417.4" y="320.3" width="317.5" height="248.8" fill="none" stroke="#000" stroke-width="2.7"/>
<path d="M417.7 569.1V575.1M450.2 569.1V573.4M481.5 569.1V575.1M513.6 569.1V573.4M544.9 569.1V575.1M576.8 569.1V573.4M607.8 569.1V575.1M639.7 569.1V573.4M671.3 569.1V575.1M703.1 569.1V573.4M734.8 569.1V575.1" stroke="#000" stroke-width="2.4" fill="none"/>
<text transform="matrix(0.021 0 0 0.0167 401.45 591.91)" font-size="1000" fill="#000">300</text>
<text transform="matrix(0.021 0 0 0.0167 467.7 591.91)" font-size="1000" fill="#000">400</text>
<text transform="matrix(0.021 0 0 0.0167 528.63 591.91)" font-size="1000" fill="#000">500</text>
<text transform="matrix(0.021 0 0 0.0167 595.19 591.91)" font-size="1000" fill="#000">600</text>
<text transform="matrix(0.021 0 0 0.0167 656.65 591.91)" font-size="1000" fill="#000">700</text>
<text transform="matrix(0.021 0 0 0.0167 722.4 591.91)" font-size="1000" fill="#000">800</text>
<text transform="matrix(0.026085 0 0 0.022186 485.33 617.4)" font-size="1000" fill="#000">Wavelength (nm)</text>
<text transform="matrix(0 -0.021633 0.026351 0 402.59 526.72)" font-size="1000" fill="#000">Absorbance (a.u.)</text>
<text transform="matrix(0.028397 0 0 0.023744 702.09 347.65)" font-size="1000" fill="#000">D</text>
<rect x="238.2" y="632.7" width="320.4" height="246.9" fill="none" stroke="#000" stroke-width="2.7"/>
<path d="M238 879.6V885.6M266.8 879.6V883.9M300.6 879.6V885.6M332.4 879.6V883.9M364.6 879.6V885.6M397.5 879.6V883.9M429.6 879.6V885.6M462.6 879.6V883.9M494.2 879.6V885.6M527.3 879.6V883.9M558.4 879.6V885.6" stroke="#000" stroke-width="2.4" fill="none"/>
<text transform="matrix(0.021 0 0 0.0167 224.45 901.31)" font-size="1000" fill="#000">300</text>
<text transform="matrix(0.021 0 0 0.0167 285.1 901.31)" font-size="1000" fill="#000">400</text>
<text transform="matrix(0.021 0 0 0.0167 349.73 901.31)" font-size="1000" fill="#000">500</text>
<text transform="matrix(0.021 0 0 0.0167 415.09 901.31)" font-size="1000" fill="#000">600</text>
<text transform="matrix(0.021 0 0 0.0167 480.95 901.31)" font-size="1000" fill="#000">700</text>
<text transform="matrix(0.021 0 0 0.0167 545.5 901.31)" font-size="1000" fill="#000">800</text>
<text transform="matrix(0.026003 0 0 0.022077 311.64 930.12)" font-size="1000" fill="#000">Wavelength (nm)</text>
<text transform="matrix(0 -0.021687 0.026351 0 222.19 836.82)" font-size="1000" fill="#000">Absorbance (a.u.)</text>
<text transform="matrix(0.026878 0 0 0.023817 523.24 657.5)" font-size="1000" fill="#000">E</text>
<line x1="76" y1="31.6" x2="113.6" y2="31.6" stroke="#000000" stroke-width="2.2"/>
<text transform="matrix(0.0173 0 0 0.0147 125.24 37.68)" font-size="1000" fill="#000">00 min</text>
<line x1="76" y1="49.16" x2="113.6" y2="49.16" stroke="#e01414" stroke-width="2.2"/>
<text transform="matrix(0.0173 0 0 0.0147 125.24 55.08)" font-size="1000" fill="#000">05 min</text>
<line x1="76" y1="66.72" x2="113.6" y2="66.72" stroke="#1c1ce0" stroke-width="2.2"/>
<text transform="matrix(0.0173 0 0 0.0147 124.52 72.48)" font-size="1000" fill="#000">10 min</text>
<line x1="76" y1="84.28" x2="113.6" y2="84.28" stroke="#00c0c0" stroke-width="2.2"/>
<text transform="matrix(0.0173 0 0 0.0147 124.52 89.88)" font-size="1000" fill="#000">15 min</text>
<line x1="76" y1="101.84" x2="113.6" y2="101.84" stroke="#e828e8" stroke-width="2.2"/>
<text transform="matrix(0.0173 0 0 0.0147 125.17 107.28)" font-size="1000" fill="#000">20 min</text>
<line x1="76" y1="119.4" x2="113.6" y2="119.4" stroke="#c8c010" stroke-width="2.2"/>
<text transform="matrix(0.0173 0 0 0.0147 125.17 124.68)" font-size="1000" fill="#000">25 min</text>
<line x1="76" y1="136.96" x2="113.6" y2="136.96" stroke="#0a0aa0" stroke-width="2.2"/>
<text transform="matrix(0.0173 0 0 0.0147 125.24 142.08)" font-size="1000" fill="#000">30 min</text>
<line x1="76" y1="154.52" x2="113.6" y2="154.52" stroke="#b00e0e" stroke-width="2.2"/>
<text transform="matrix(0.0173 0 0 0.0147 125.24 159.48)" font-size="1000" fill="#000">35 min</text>
<line x1="76" y1="172.08" x2="113.6" y2="172.08" stroke="#e62890" stroke-width="2.2"/>
<text transform="matrix(0.0173 0 0 0.0147 125.66 176.88)" font-size="1000" fill="#000">40 min</text>
<line x1="442.4" y1="30.1" x2="480.2" y2="30.1" stroke="#000000" stroke-width="2.2"/>
<text transform="matrix(0.0173 0 0 0.0147 491.64 34.48)" font-size="1000" fill="#000">00 min</text>
<line x1="442.4" y1="47.51" x2="480.2" y2="47.51" stroke="#e01414" stroke-width="2.2"/>
<text transform="matrix(0.0173 0 0 0.0147 491.64 51.83)" font-size="1000" fill="#000">05 min</text>
<line x1="442.4" y1="64.92" x2="480.2" y2="64.92" stroke="#1c1ce0" stroke-width="2.2"/>
<text transform="matrix(0.0173 0 0 0.0147 490.92 69.18)" font-size="1000" fill="#000">10 min</text>
<line x1="442.4" y1="82.33" x2="480.2" y2="82.33" stroke="#00c0c0" stroke-width="2.2"/>
<text transform="matrix(0.0173 0 0 0.0147 490.92 86.53)" font-size="1000" fill="#000">15 min</text>
<line x1="442.4" y1="99.74" x2="480.2" y2="99.74" stroke="#e828e8" stroke-width="2.2"/>
<text transform="matrix(0.0173 0 0 0.0147 491.57 103.88)" font-size="1000" fill="#000">20 min</text>
<line x1="442.4" y1="117.15" x2="480.2" y2="117.15" stroke="#c8c010" stroke-width="2.2"/>
<text transform="matrix(0.0173 0 0 0.0147 491.57 121.23)" font-size="1000" fill="#000">25 min</text>
<line x1="442.4" y1="134.56" x2="480.2" y2="134.56" stroke="#0a0aa0" stroke-width="2.2"/>
<text transform="matrix(0.0173 0 0 0.0147 491.64 138.58)" font-size="1000" fill="#000">30 min</text>
<line x1="442.4" y1="151.97" x2="480.2" y2="151.97" stroke="#b00e0e" stroke-width="2.2"/>
<text transform="matrix(0.0173 0 0 0.0147 491.64 155.93)" font-size="1000" fill="#000">35 min</text>
<line x1="442.4" y1="169.38" x2="480.2" y2="169.38" stroke="#e62890" stroke-width="2.2"/>
<text transform="matrix(0.0173 0 0 0.0147 492.06 173.28)" font-size="1000" fill="#000">40 min</text>
<line x1="71.3" y1="343.3" x2="108.8" y2="343.3" stroke="#000000" stroke-width="2.2"/>
<text transform="matrix(0.0173 0 0 0.0147 119.14 348.28)" font-size="1000" fill="#000">00 min</text>
<line x1="71.3" y1="360.75" x2="108.8" y2="360.75" stroke="#e01414" stroke-width="2.2"/>
<text transform="matrix(0.0173 0 0 0.0147 119.14 365.64)" font-size="1000" fill="#000">05 min</text>
<line x1="71.3" y1="378.2" x2="108.8" y2="378.2" stroke="#1c1ce0" stroke-width="2.2"/>
<text transform="matrix(0.0173 0 0 0.0147 118.42 383)" font-size="1000" fill="#000">10 min</text>
<line x1="71.3" y1="395.65" x2="108.8" y2="395.65" stroke="#00c0c0" stroke-width="2.2"/>
<text transform="matrix(0.0173 0 0 0.0147 118.42 400.36)" font-size="1000" fill="#000">15 min</text>
<line x1="71.3" y1="413.1" x2="108.8" y2="413.1" stroke="#e828e8" stroke-width="2.2"/>
<text transform="matrix(0.0173 0 0 0.0147 119.07 417.72)" font-size="1000" fill="#000">20 min</text>
<line x1="71.3" y1="430.55" x2="108.8" y2="430.55" stroke="#c8c010" stroke-width="2.2"/>
<text transform="matrix(0.0173 0 0 0.0147 119.07 435.08)" font-size="1000" fill="#000">25 min</text>
<line x1="71.3" y1="448" x2="108.8" y2="448" stroke="#0a0aa0" stroke-width="2.2"/>
<text transform="matrix(0.0173 0 0 0.0147 119.14 452.44)" font-size="1000" fill="#000">30 min</text>
<line x1="71.3" y1="465.45" x2="108.8" y2="465.45" stroke="#b00e0e" stroke-width="2.2"/>
<text transform="matrix(0.0173 0 0 0.0147 119.14 469.8)" font-size="1000" fill="#000">35 min</text>
<line x1="71.3" y1="482.9" x2="108.8" y2="482.9" stroke="#e62890" stroke-width="2.2"/>
<text transform="matrix(0.0173 0 0 0.0147 119.56 487.16)" font-size="1000" fill="#000">40 min</text>
<line x1="440.1" y1="342.2" x2="477.9" y2="342.2" stroke="#000000" stroke-width="2.2"/>
<text transform="matrix(0.0173 0 0 0.0147 489.14 349.18)" font-size="1000" fill="#000">00 min</text>
<line x1="440.1" y1="360.2" x2="477.9" y2="360.2" stroke="#e01414" stroke-width="2.2"/>
<text transform="matrix(0.0173 0 0 0.0147 489.14 366.49)" font-size="1000" fill="#000">05 min</text>
<line x1="440.1" y1="378.2" x2="477.9" y2="378.2" stroke="#1c1ce0" stroke-width="2.2"/>
<text transform="matrix(0.0173 0 0 0.0147 488.42 383.8)" font-size="1000" fill="#000">10 min</text>
<line x1="440.1" y1="397.7" x2="477.9" y2="397.7" stroke="#e828e8" stroke-width="2.2"/>
<text transform="matrix(0.0173 0 0 0.0147 488.42 401.11)" font-size="1000" fill="#000">15 min</text>
<line x1="440.1" y1="415" x2="477.9" y2="415" stroke="#14be1e" stroke-width="2.2"/>
<text transform="matrix(0.0173 0 0 0.0147 489.07 418.42)" font-size="1000" fill="#000">20 min</text>
<line x1="440.1" y1="432.5" x2="477.9" y2="432.5" stroke="#c8c010" stroke-width="2.2"/>
<text transform="matrix(0.0173 0 0 0.0147 489.07 435.73)" font-size="1000" fill="#000">25 min</text>
<line x1="440.1" y1="450.4" x2="477.9" y2="450.4" stroke="#0a0aaa" stroke-width="2.2"/>
<text transform="matrix(0.0173 0 0 0.0147 489.14 453.04)" font-size="1000" fill="#000">30 min</text>
<line x1="440.1" y1="468" x2="477.9" y2="468" stroke="#b00e0e" stroke-width="2.2"/>
<text transform="matrix(0.0173 0 0 0.0147 489.14 470.35)" font-size="1000" fill="#000">35 min</text>
<line x1="440.1" y1="484.2" x2="477.9" y2="484.2" stroke="#8c14dc" stroke-width="2.2"/>
<text transform="matrix(0.0173 0 0 0.0147 489.56 487.66)" font-size="1000" fill="#000">40 min</text>
<line x1="264.8" y1="656.1" x2="305.5" y2="656.1" stroke="#0a0ab4" stroke-width="2.8"/>
<text transform="matrix(0.0173 0 0 0.0148 311.64 659.37)" font-size="1000" fill="#000">3 h</text>
<line x1="264.8" y1="673.6" x2="305.5" y2="673.6" stroke="#e01414" stroke-width="2.8"/>
<text transform="matrix(0.0173 0 0 0.0148 311.71 676.87)" font-size="1000" fill="#000">6 h</text>
<line x1="264.8" y1="689.6" x2="305.5" y2="689.6" stroke="#140a28" stroke-width="2.8"/>
<text transform="matrix(0.0173 0 0 0.0148 311.83 694.37)" font-size="1000" fill="#000">9 h</text>
<line x1="264.8" y1="705.9" x2="305.5" y2="705.9" stroke="#00a032" stroke-width="2.8"/>
<text transform="matrix(0.0173 0 0 0.0148 311.82 711.87)" font-size="1000" fill="#000">12 h</text>
</svg></body></html>
